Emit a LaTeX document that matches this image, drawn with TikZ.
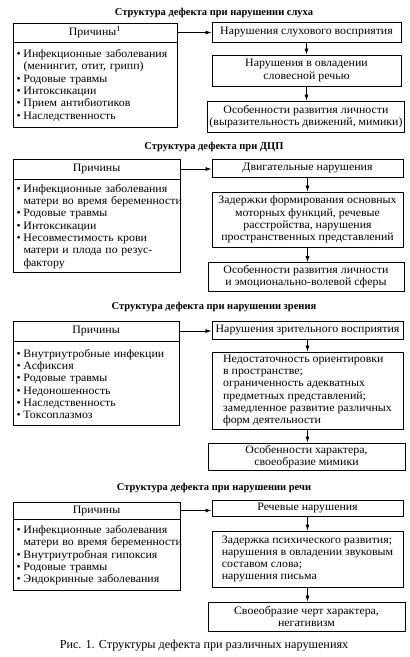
\documentclass[tikz,border=0pt]{standalone}
\usepackage{fontspec}
\setmainfont{Liberation Serif}
\newfontfamily\bxfont[FakeStretch=1.05]{Liberation Serif}
\usetikzlibrary{arrows.meta}
\newcommand\itm[1]{\mbox{\makebox[7pt][l]{\textbullet}#1}}
\newcommand\itc[1]{\mbox{\hspace*{7pt}#1}}
\begin{document}
\begin{tikzpicture}[x=1pt,y=-1pt,
  font=\bxfont\fontsize{11.3}{12.3}\selectfont,
  bx/.style={draw, line width=0.9pt, inner sep=0pt, align=center},
  lbody/.style={bx, align=left, anchor=north},
  ttl/.style={font=\rmfamily\bfseries\fontsize{10.5}{12}\selectfont},
  arr/.style={-{Latex[length=6pt,width=4pt]}, line width=0.8pt}]
\useasboundingbox (0,0) rectangle (410,657);

% ---------- Section 1 ----------
\node[ttl] (T1) at (214,13) {Структура дефекта при нарушении слуха};
\node[bx, minimum width=164pt, minimum height=19pt] (L1h) at (95,32.5) {Причины\textsuperscript{1}};
\node[lbody, minimum width=164pt, minimum height=85pt, text width=157pt] (L1b) at (L1h.south) {%
\itm{Инфекционные заболевания}\\
\itc{(менингит, отит, грипп)}\\
\itm{Родовые травмы}\\
\itm{Интоксикации}\\
\itm{Прием антибиотиков}\\
\itm{Наследственность}};
\node[bx, minimum width=189pt, minimum height=20pt] (R1a) at (306.5,32) {Нарушения слухового восприятия};
\node[bx, minimum width=189pt, minimum height=31pt] (R1b) at (306.5,70.5) {Нарушения в овладении\\словесной речью};
\node[bx, minimum width=197pt, minimum height=31pt] (R1c) at (306,116.5) {Особенности развития личности\\(выразительность движений, мимики)};
\draw[arr] (L1h.east) -- (R1a.west |- L1h.east);
\draw[arr] (R1a.south) -- (R1a.south |- R1b.north);
\draw[arr] (R1b.south) -- (R1b.south |- R1c.north);

% ---------- Section 2 ----------
\node[ttl] (T2) at (214,147) {Структура дефекта при ДЦП};
\node[bx, minimum width=167pt, minimum height=20pt] (L2h) at (96.5,169) {Причины};
\node[lbody, minimum width=167pt, minimum height=93pt, text width=160pt] (L2b) at (L2h.south) {%
\itm{Инфекционные заболевания}\\
\itc{матери во время беременности}\\
\itm{Родовые травмы}\\
\itm{Интоксикации}\\
\itm{Несовместимость крови}\\
\itc{матери и плода по резус-}\\
\itc{фактору}};
\node[bx, minimum width=191pt, minimum height=18pt] (R2a) at (307.5,168) {Двигательные нарушения};
\node[bx, minimum width=191pt, minimum height=55pt] (R2b) at (307.5,219.5) {Задержки формирования основных\\моторных функций, речевые\\расстройства, нарушения\\пространственных представлений};
\node[bx, minimum width=196pt, minimum height=29pt] (R2c) at (306,277) {Особенности развития личности\\и эмоционально-волевой сферы};
\draw[arr] (L2h.east) -- (R2a.west |- L2h.east);
\draw[arr] (R2a.south) -- (R2a.south |- R2b.north);
\draw[arr] (R2b.south) -- (R2b.south |- R2c.north);

% ---------- Section 3 ----------
\node[ttl] (T3) at (214,307) {Структура дефекта при нарушении зрения};
\node[bx, minimum width=166pt, minimum height=20pt] (L3h) at (96,331) {Причины};
\node[lbody, minimum width=166pt, minimum height=84pt, text width=159pt] (L3b) at (L3h.south) {%
\itm{Внутриутробные инфекции}\\
\itm{Асфиксия}\\
\itm{Родовые травмы}\\
\itm{Недоношенность}\\
\itm{Наследственность}\\
\itm{Токсоплазмоз}};
\node[bx, minimum width=191pt, minimum height=18pt] (R3a) at (307.5,330) {Нарушения зрительного восприятия};
\node[bx, minimum width=191pt, minimum height=77pt, align=left] (R3b) at (307.5,390.5) {Недостаточность ориентировки\\в пространстве;\\ограниченность адекватных\\предметных представлений;\\замедленное развитие различных\\форм деятельности};
\node[bx, minimum width=197pt, minimum height=27pt] (R3c) at (306.5,456.5) {Особенности характера,\\своеобразие мимики};
\draw[arr] (L3h.east) -- (R3a.west |- L3h.east);
\draw[arr] (R3a.south) -- (R3a.south |- R3b.north);
\draw[arr] (R3b.south) -- (R3b.south |- R3c.north);

% ---------- Section 4 ----------
\node[ttl] (T4) at (214,488) {Структура дефекта при нарушении речи};
\node[bx, minimum width=167pt, minimum height=17pt] (L4h) at (96.5,510.5) {Причины};
\node[lbody, minimum width=167pt, minimum height=71pt, text width=160pt] (L4b) at (L4h.south) {%
\itm{Инфекционные заболевания}\\
\itc{матери во время беременности}\\
\itm{Внутриутробная гипоксия}\\
\itm{Родовые травмы}\\
\itm{Эндокринные заболевания}};
\node[bx, minimum width=191pt, minimum height=16pt] (R4a) at (307.5,508) {Речевые нарушения};
\node[bx, minimum width=191pt, minimum height=56pt, align=left] (R4b) at (307.5,559) {Задержка психического развития;\\нарушения в овладении звуковым\\составом слова;\\нарушения письма};
\node[bx, minimum width=197pt, minimum height=29pt] (R4c) at (306.5,616.5) {Своеобразие черт характера,\\негативизм};
\draw[arr] (L4h.east) -- (R4a.west |- L4h.east);
\draw[arr] (R4a.south) -- (R4a.south |- R4b.north);
\draw[arr] (R4b.south) -- (R4b.south |- R4c.north);

% ---------- Caption ----------
\node[font=\rmfamily\fontsize{12.2}{14}\selectfont] (cap) at (204,646) {Рис. 1. Структуры дефекта при различных нарушениях};
\end{tikzpicture}
\end{document}
